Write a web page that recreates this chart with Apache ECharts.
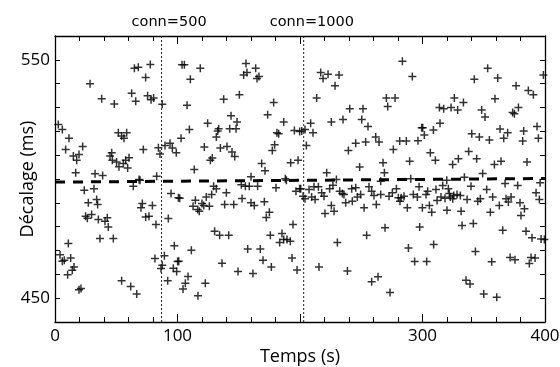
<!DOCTYPE html>
<html>
<head>
<meta charset="utf-8">
<script src="https://cdn.jsdelivr.net/npm/echarts@6/dist/echarts.min.js"></script>
<style>
  html, body { margin: 0; padding: 0; background: #fff; }
  #chart { width: 560px; height: 367px; }
</style>
</head>
<body>
<div id="chart"></div>
<script>
// time (s), clock offset (ms)
const samples = [
  [2.7,522.9],[6.0,520.8],[11.4,517.1],[8.7,512.4],[15.0,509.6],[19.6,510.3],[17.7,507.9],[22.6,513.6],[16.9,502.6],[28.6,540.0],
  [38.1,533.7],[48.4,531.5],[32.7,502.2],[38.9,501.5],[51.7,519.4],[54.4,518.0],[56.3,517.1],[58.5,519.4],[44.9,509.6],[46.3,511.0],
  [46.8,507.9],[50.3,507.1],[52.2,505.1],[55.8,506.5],[57.7,507.9],[60.4,508.9],[59.3,504.6],[64.8,546.5],[68.0,546.9],[77.8,548.0],
  [74.0,542.6],[62.6,536.0],[65.9,532.6],[75.6,534.9],[78.4,533.2],[80.5,534.0],[87.6,531.4],[72.1,512.4],[84.4,513.1],[85.7,510.5],
  [83.0,501.2],[68.6,499.8],[89.8,514.1],[93.9,515.0],[95.8,513.0],[99.0,511.0],
  [103.7,547.9],[105.6,547.9],[118.6,546.5],[110.5,541.9],[107.8,530.9],[109.7,520.8],[102.9,517.1],[121.9,513.4],[113.7,504.0],[126.8,507.9],
  [128.4,508.8],[124.6,523.4],[131.7,517.6],[132.8,520.1],[133.6,521.1],[135.0,513.0],[137.7,533.5],[143.7,526.5],[148.6,523.9],[142.6,521.1],
  [147.8,521.1],[140.4,513.6],[144.5,511.3],[146.7,509.4],[150.5,535.4],[155.9,548.5],[156.7,544.7],[154.0,543.6],[163.8,546.5],[164.9,542.2],
  [166.5,543.0],[173.6,527.0],[178.5,532.1],[186.7,523.9],[181.2,519.4],[182.6,519.0],[195.4,520.4],[199.7,519.9],[179.3,514.4],[177.4,512.0],
  [168.7,506.5],[171.4,503.5],[192.4,506.8],[198.4,507.9],[160.0,500.9],[188.0,500.1],
  [201.4,520.1],[204.1,520.8],[208.7,523.4],[210.6,519.4],[205.2,514.1],[216.9,544.7],[218.8,542.2],[222.9,544.0],[231.9,543.6],[228.6,539.1],
  [213.6,534.0],[225.6,523.9],[235.1,525.0],[240.6,529.5],[251.4,529.5],[250.4,525.0],[255.5,522.0],[239.5,512.0],[245.5,515.0],[253.6,515.5],
  [261.8,517.6],[264.5,515.5],[276.2,512.4],[281.4,515.9],[286.8,515.9],[296.3,516.1],[299.3,521.5],[270.5,534.0],[277.6,534.0],[271.6,530.4],
  [283.6,549.4],[291.7,543.0],[267.8,506.8],[289.5,507.4],[248.7,505.0],[221.8,502.6],[268.9,502.6],[229.7,499.8],[290.4,500.1],
  [300.2,521.5],[301.5,518.5],[308.9,520.6],[314.3,523.4],[313.8,530.0],[317.3,529.5],[323.3,530.0],[326.0,534.0],[328.7,529.0],[333.4,532.1],
  [306.4,511.0],[310.5,507.9],[324.6,506.1],[329.3,508.5],[337.7,511.5],[344.2,508.5],[340.2,519.0],[346.4,517.6],[354.6,516.4],[348.3,529.0],
  [351.0,526.0],[342.3,541.9],[353.2,546.5],[361.4,542.4],[359.2,533.7],[363.3,521.0],[366.3,517.1],[369.5,519.4],[373.6,527.9],[375.0,527.4],
  [378.3,530.0],[376.4,539.1],[386.4,537.1],[390.5,535.4],[398.7,543.6],[382.6,520.1],[381.8,515.9],[393.5,522.0],[394.6,517.1],[385.3,507.1],
  [358.7,506.1],[364.1,507.4],[349.1,502.3],[334.2,500.7],[319.8,499.5],
  [23.9,495.3],[31.8,495.9],[27.2,490.0],[34.0,491.4],[34.8,489.3],[25.0,484.4],[26.4,483.5],[29.9,485.1],[35.4,483.0],[40.8,482.3],
  [42.7,483.7],[43.5,479.9],[36.7,475.0],[47.6,475.0],[10.9,472.9],[4.1,468.2],[12.8,466.9],[6.0,465.5],[7.6,465.9],[15.5,463.1],
  [14.1,461.7],[10.3,459.8],[19.6,453.5],[21.2,454.1],[54.4,457.3],[61.8,454.9],[66.7,451.8],[63.9,497.0],[69.4,499.5],[71.3,489.7],
  [70.2,487.9],[79.5,488.9],[74.0,484.1],[76.7,484.4],[82.4,480.9],[94.7,493.9],[92.5,483.4],[97.4,472.0],[81.6,466.6],[89.3,467.8],
  [87.6,463.8],[86.5,462.5],[92.0,457.3],[96.6,462.6],[99.3,461.2],[100.1,465.4],[100.7,492.1],
  [101.8,491.9],[114.6,491.1],[112.7,488.6],[116.5,487.2],[117.8,486.5],[120.0,489.7],[121.4,488.9],[123.5,492.5],[126.0,488.6],[127.9,493.5],
  [129.5,497.0],[131.7,495.9],[139.9,494.2],[138.5,489.3],[145.9,489.3],[152.1,497.6],[155.4,497.0],[158.6,497.0],[165.4,497.0],[152.7,491.8],
  [160.0,490.0],[162.7,488.9],[170.9,490.5],[180.4,496.3],[175.0,486.1],[172.5,483.8],[196.7,494.9],[199.7,495.9],[188.9,499.5],[130.3,478.1],
  [134.4,476.4],[141.8,476.4],[175.8,476.4],[185.3,477.1],[186.7,474.6],[183.4,473.4],[189.4,474.6],[192.1,473.9],[194.3,480.9],[111.3,470.1],
  [157.3,470.6],[167.6,470.6],[169.8,465.9],[101.0,465.5],[136.3,464.7],[176.6,463.1],[193.5,466.9],[197.6,461.8],[149.4,461.2],[161.6,460.4],
  [108.6,459.1],[106.4,456.3],[104.5,453.8],[122.7,456.3],[116.7,451.0],
  [200.6,495.9],[202.5,492.8],[204.1,491.7],[207.4,495.6],[211.4,496.7],[215.0,496.7],[212.3,491.4],[209.5,492.5],[217.7,494.2],[219.6,492.8],
  [224.2,495.9],[226.9,497.4],[225.6,488.9],[227.8,486.5],[220.4,485.5],[232.4,494.9],[234.6,493.9],[235.9,493.5],[237.3,490.0],[242.2,495.9],
  [245.5,496.3],[242.7,490.7],[246.8,492.5],[249.5,493.5],[252.3,487.9],[256.3,496.7],[258.5,494.9],[260.4,493.1],[265.9,493.5],[262.3,489.3],
  [272.7,492.8],[275.4,494.2],[278.7,495.9],[280.3,492.1],[282.5,492.1],[284.9,492.8],[281.6,490.7],[287.6,487.9],[292.5,493.5],[295.8,492.5],
  [297.2,496.7],[299.9,487.9],[265.9,499.1],[269.4,479.5],[297.7,479.9],[254.4,476.4],[230.5,473.4],[288.5,471.1],[293.6,465.4],[215.5,463.1],
  [238.7,461.4],[263.7,459.0],[258.5,456.9],[273.5,452.4],
  [302.9,493.5],[304.2,494.9],[311.0,495.6],[316.5,497.3],[321.1,495.9],[321.9,493.9],[311.9,491.0],[315.1,492.5],[318.4,491.9],[322.7,492.5],
  [325.5,493.1],[324.7,491.7],[328.2,493.5],[330.9,493.1],[305.6,488.9],[307.5,486.1],[320.0,486.9],[331.5,486.5],[336.4,491.4],[339.6,497.0],
  [345.1,490.7],[347.2,491.7],[352.4,495.6],[357.3,492.5],[355.4,486.1],[362.7,488.9],[368.2,491.7],[370.1,490.3],[372.3,492.5],[367.4,498.1],
  [377.7,497.3],[379.6,490.0],[383.2,487.5],[380.4,484.7],[392.7,494.2],[395.4,491.4],[396.0,498.4],[332.3,480.5],[341.5,481.3],[365.5,478.5],
  [384.5,478.1],[389.4,475.3],[396.8,474.8],[399.5,474.6],[309.1,472.5],[343.2,469.6],[303.4,465.4],[356.5,465.3],[371.5,467.1],[375.5,466.1],
  [388.6,467.1],[391.9,466.9],[387.2,464.5],[335.5,457.5],[338.8,455.9],[350.0,451.8],[360.6,450.4]
];
// mean offset trend (dashed)
const trend = [[0, 498.7], [400, 500.2]];
// connection events
const eventTimes = [87, 203];
const eventNames = ['conn=500', 'conn=1000'];

const xLabels = [0, 100, 300, 400];
const yLabels = [450, 550];

const FONT = '"Open Sans", sans-serif';
const chart = echarts.init(document.getElementById('chart'));

function xAxisDef(pos) {
  return {
    type: 'value', min: 0, max: 400, interval: 100, position: pos, offset: 0.01,
    axisLine: { show: true, lineStyle: { color: '#000', width: 1.3 } },
    axisTick: { show: true, inside: true, length: 8, lineStyle: { color: '#000', width: 1 } },
    minorTick: { show: true, splitNumber: 5, length: 5, lineStyle: { color: '#000', width: 1 } },
    axisLabel: { show: false },
    splitLine: { show: false },
  };
}
function yAxisDef(pos) {
  return {
    type: 'value', min: 440, max: 560, interval: 10, position: pos, offset: 0.01,
    axisLine: { show: true, onZero: pos === 'left', lineStyle: { color: '#000', width: 1.3 } },
    axisTick: { show: true, inside: true, length: 5, lineStyle: { color: '#000', width: 1 } },
    axisLabel: { show: false },
    splitLine: { show: false },
  };
}

const xMain = xAxisDef('bottom');
Object.assign(xMain, {
  name: 'Temps (s)', nameLocation: 'middle', nameGap: 26, nameMoveOverlap: false,
  nameTextStyle: { color: '#000', fontSize: 18, fontFamily: FONT },
  axisLabel: { show: true, customValues: xLabels, color: '#000', fontSize: 17, fontFamily: FONT, margin: 6 },
});

const yMain = yAxisDef('left');
Object.assign(yMain, {
  name: 'Décalage (ms)', nameLocation: 'middle', nameGap: 18, nameMoveOverlap: false,
  nameTextStyle: { color: '#000', fontSize: 18, fontFamily: FONT },
  axisLabel: { show: true, customValues: yLabels, color: '#000', fontSize: 17, fontFamily: FONT, margin: 5 },
});

const eventSeries = eventTimes.map((t, i) => ({
  type: 'line',
  data: [[t, 440], [t, 560]],
  symbol: 'none',
  silent: true,
  clip: false,
  lineStyle: { color: '#222', type: [2, 2], width: 1 },
  endLabel: {
    show: true, formatter: eventNames[i], color: '#000', fontSize: 14.5,
    fontFamily: '"DejaVu Sans", sans-serif', offset: [-38 - 4 * (eventNames[i].length - 8), -14],
  },
}));

const option = {
  animation: false,
  grid: { left: 55, right: 15, top: 36, bottom: 45, outerBoundsMode: 'none' },
  xAxis: [xMain, xAxisDef('top')],
  yAxis: [yMain, yAxisDef('right')],
  series: [
    {
      type: 'scatter',
      data: samples,
      symbol: 'path://M3.25,0H4.75V3.25H8V4.75H4.75V8H3.25V4.75H0V3.25H3.25Z',
      symbolSize: 8,
      itemStyle: { color: '#000' },
    },
    {
      type: 'line',
      data: trend,
      symbol: 'none',
      lineStyle: { color: '#000', width: 3, type: [10, 8] },
      z: 3,
    },
  ].concat(eventSeries),
};
chart.setOption(option);
</script>
</body>
</html>
